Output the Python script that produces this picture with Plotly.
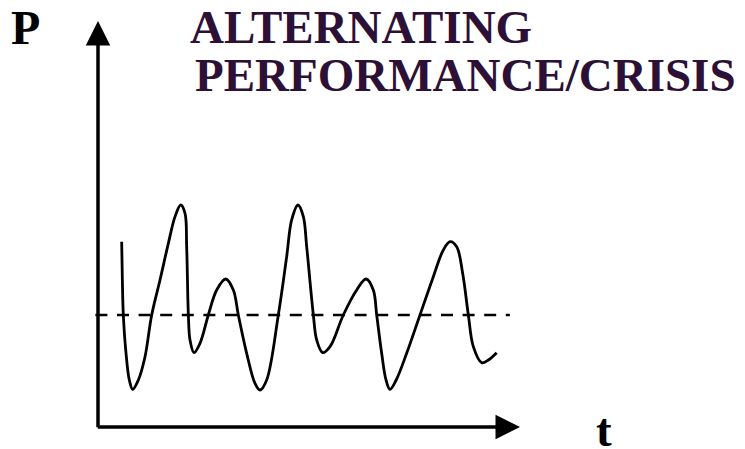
import plotly.graph_objects as go

# Curve (t, P) in axis units (axes run 0..100)
t_vals = [5.61, 5.77, 6.00, 6.64, 7.42, 8.22, 9.56, 11.14, 12.72, 14.69, 16.67, 18.25,
          19.59, 20.62, 21.01, 21.41, 21.80, 22.75, 24.17, 26.14, 28.12, 30.25, 32.07,
          33.25, 35.23, 37.20, 38.39, 39.97, 42.73, 44.71, 45.89, 47.39, 48.66, 49.45,
          51.03, 51.82, 53.24, 54.98, 58.13, 61.30, 63.51, 65.24, 66.04, 67.22, 68.25,
          69.19, 70.66, 73.14, 76.30, 79.46, 81.83, 83.41, 84.99, 86.41, 87.76, 88.94,
          90.92, 92.50, 94.47]
p_vals = [45.65, 36.21, 27.59, 18.15, 11.58, 9.28, 11.58, 17.32, 27.59, 36.21, 45.24, 51.81,
          54.68, 52.63, 44.42, 27.59, 21.43, 18.31, 20.61, 27.59, 33.74, 36.45, 33.74,
          27.59, 18.15, 10.76, 9.11, 11.58, 27.59, 41.95, 50.99, 54.68, 51.81, 44.42,
          27.59, 21.43, 18.31, 19.79, 27.59, 33.74, 36.45, 33.74, 27.59, 18.15, 11.58,
          9.28, 11.58, 18.15, 27.59, 37.03, 43.60, 45.65, 44.42, 37.85, 27.59, 19.79,
          15.84, 16.50, 18.31]

# Average level (dashed line)
mean_t = [-0.62, 97.6]
mean_p = [27.6, 27.6]

title_line1 = "ALTERNATING"
title_line2 = "PERFORMANCE/CRISIS"
y_label = "P"
x_label = "t"

# page body has an 8px margin; figure sized to fit the 745x449 window
OFF = 8
W, H = 745 - OFF, 449 - OFF
x_range = [-21.33, 153.32]
y_range = [-5.42, 103.2]


def px(X):
    return (X - OFF) / W


def py(Y):
    return 1 - (Y - OFF) / H


fig = go.Figure()
fig.add_trace(go.Scatter(x=mean_t, y=mean_p, mode="lines",
                         line=dict(color="black", width=2.5, dash="12px,9.6px"),
                         hoverinfo="skip", showlegend=False))
fig.add_trace(go.Scatter(x=t_vals, y=p_vals, mode="lines",
                         line=dict(color="black", width=2.8, shape="spline", smoothing=1.0),
                         hoverinfo="skip", showlegend=False))

arrow_common = dict(xref="x", yref="y", axref="x", ayref="y", text="", showarrow=True,
                    arrowhead=2, arrowsize=1.4, arrowwidth=3.5, arrowcolor="black",
                    standoff=0, startstandoff=0)
# vertical axis arrow
fig.add_annotation(x=0, y=100, ax=0, ay=-0.43, **arrow_common)
# horizontal axis arrow
fig.add_annotation(x=100, y=0, ax=-0.41, ay=0, **arrow_common)

serif = "Liberation Serif, Times New Roman, serif"
title_color = "#2d1035"
fig.add_annotation(xref="paper", yref="paper", x=px(188), y=py(27.1),
                   xanchor="left", yanchor="middle", showarrow=False, text=title_line1,
                   font=dict(family=serif, size=47, color=title_color, weight="bold"))
fig.add_annotation(xref="paper", yref="paper", x=px(193), y=py(75.1),
                   xanchor="left", yanchor="middle", showarrow=False, text=title_line2,
                   font=dict(family=serif, size=47, color=title_color, weight="bold"))
fig.add_annotation(xref="paper", yref="paper", x=px(9), y=py(27.5),
                   xanchor="left", yanchor="middle", showarrow=False, text=y_label,
                   font=dict(family=serif, size=48, color="black", weight="bold"))
fig.add_annotation(xref="paper", yref="paper", x=px(594), y=py(402),
                   xanchor="left", yanchor="top", showarrow=False, text=x_label,
                   font=dict(family=serif, size=47, color="black", weight="bold"))

fig.update_layout(width=W, height=H, margin=dict(l=0, r=0, t=0, b=0),
                  paper_bgcolor="white", plot_bgcolor="white",
                  xaxis=dict(range=x_range, visible=False, fixedrange=True),
                  yaxis=dict(range=y_range, visible=False, fixedrange=True))

fig.write_html("out.html")
